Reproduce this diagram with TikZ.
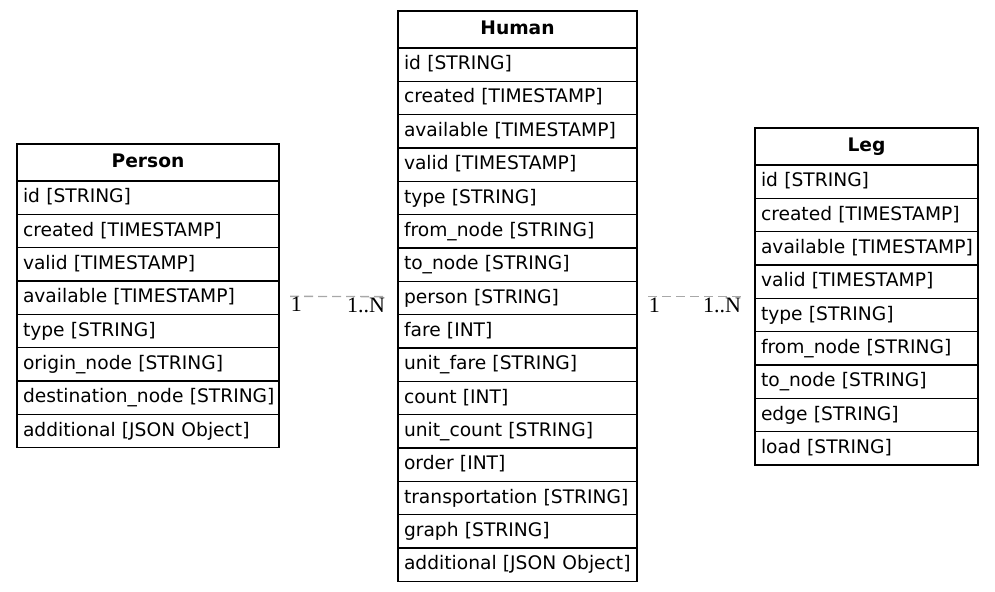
\documentclass[tikz,border=0pt]{standalone}
\usepackage{fontspec}
\setmainfont{DejaVu Sans}
\newfontfamily\cardfont{Liberation Serif}
\usetikzlibrary{positioning}
\definecolor{relgray}{RGB}{168,168,168}

\begin{document}
\begin{tikzpicture}[x=0.75pt,y=-0.75pt,
 every node/.style={font=\fontsize{14pt}{17pt}\selectfont},
 row/.style={draw,line width=0.8pt,inner xsep=4.5pt,inner ysep=0pt,outer sep=0pt,
   minimum height=25pt,text width=#1,align=left,text height=10.5pt,text depth=3pt},
 head/.style={row=#1,minimum height=27.75pt,align=center,font=\fontsize{14pt}{17pt}\selectfont\bfseries},
 rel/.style={relgray,line width=1pt,dash pattern=on 6.75pt off 3.75pt},
 card/.style={font=\fontsize{16.5pt}{19pt}\selectfont\cardfont,inner sep=0.5pt}]
\useasboundingbox (0,0) rectangle (995,592);
% Person table
\node[head=187.5pt,anchor=north west] (p0) at (17,144) {Person};
\foreach \f [count=\i, evaluate=\i as \j using int(\i-1)] in {id [STRING],created [TIMESTAMP],
  valid [TIMESTAMP],available [TIMESTAMP],type [STRING],origin\_node [STRING],
  destination\_node [STRING],additional [JSON Object]}
  \node[row=187.5pt,below=0pt of p\j] (p\i) {\mbox{\f}};
% Human table
\node[head=170.25pt,anchor=north west] (h0) at (398,11) {Human};
\foreach \f [count=\i, evaluate=\i as \j using int(\i-1)] in {id [STRING],created [TIMESTAMP],
  available [TIMESTAMP],valid [TIMESTAMP],type [STRING],from\_node [STRING],to\_node [STRING],
  person [STRING],fare [INT],unit\_fare [STRING],count [INT],unit\_count [STRING],order [INT],
  transportation [STRING],graph [STRING],additional [JSON Object]}
  \node[row=170.25pt,below=0pt of h\j] (h\i) {\mbox{\f}};
% Leg table
\node[head=158.25pt,anchor=north west] (l0) at (755,128) {Leg};
\foreach \f [count=\i, evaluate=\i as \j using int(\i-1)] in {id [STRING],created [TIMESTAMP],
  available [TIMESTAMP],valid [TIMESTAMP],type [STRING],from\_node [STRING],to\_node [STRING],
  edge [STRING],load [STRING]}
  \node[row=158.25pt,below=0pt of l\j] (l\i) {\mbox{\f}};
% relations
\draw[rel] ([xshift=8.25pt,yshift=1pt]p4.east) coordinate (ps) -- ([xshift=-9pt,yshift=1pt]h8.west) coordinate (pe);
\node[card,anchor=north west] (psl) at (ps) {1};
\node[card,anchor=north east] (pel) at (pe) {1..N};
\coordinate (lin) at (h8.east -| l4.west);
\draw[rel] ([xshift=8.25pt,yshift=1pt]h8.east) coordinate (hs) -- ([xshift=-9.75pt,yshift=1pt]lin) coordinate (he);
\node[card,anchor=north west] (hsl) at (hs) {1};
\node[card,anchor=north east] (hel) at (he) {1..N};
\end{tikzpicture}
\end{document}
